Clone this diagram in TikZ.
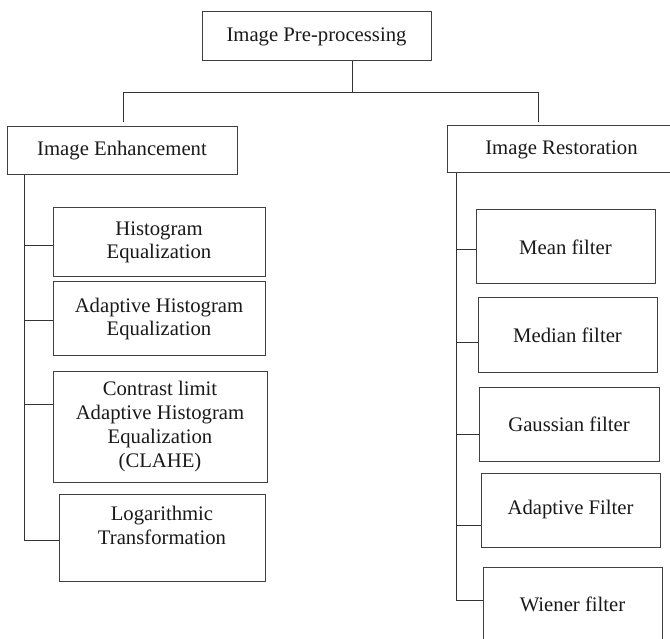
\documentclass[tikz,border=0pt]{standalone}
\usepackage{fontspec}
\setmainfont{Liberation Serif}
\usetikzlibrary{calc}
\tikzset{
  box/.style={draw=black!75, line width=1pt, inner sep=0pt, align=center,
    font=\fontsize{20.7}{23.7}\selectfont, text=black!90},
  link/.style={draw=black!80, line width=1pt},
}
\begin{document}
\begin{tikzpicture}[x=1pt,y=-1pt]
  \useasboundingbox (0,0) rectangle (670,639);
  \clip (0,0) rectangle (670,639);

  % root and the two main branches
  \node[box, minimum width=229pt, minimum height=49pt] (root) at (316.5,36.5) {Image Pre-processing};
  \node[box, minimum width=230pt, minimum height=48pt] (enh) at (122,151) {Image Enhancement};
  \node[box, minimum width=229pt, minimum height=47pt] (res) at (561.5,149.5) {Image Restoration};

  % enhancement methods
  \node[box, minimum width=212pt, minimum height=69pt] (hist) at (159,242.5) {Histogram\\Equalization};
  \node[box, minimum width=212pt, minimum height=74pt] (ahe) at (159,319) {Adaptive Histogram\\Equalization};
  \node[box, minimum width=214pt, minimum height=111pt] (clahe) at (160,426.5) {Contrast limit\\Adaptive Histogram\\Equalization\\(CLAHE)};
  \node[box, minimum width=206pt, minimum height=87pt] (log) at (162,537.5) {Logarithmic\\Transformation\\\mbox{}};

  % restoration filters
  \node[box, minimum width=179pt, minimum height=74pt] (mean) at (565.5,247) {Mean filter};
  \node[box, minimum width=179pt, minimum height=74pt] (median) at (567.5,335) {Median filter};
  \node[box, minimum width=180pt, minimum height=74pt] (gauss) at (569,424) {Gaussian filter};
  \node[box, minimum width=179pt, minimum height=74pt] (adapt) at (570.5,510) {Adaptive Filter};
  \node[box, minimum width=179pt, minimum height=74pt] (wiener) at (572.5,604) {Wiener filter};

  % top-level tree
  \coordinate (hub) at ($(root.south)+(35.5,31)$);
  \draw[link] ($(root.south)+(35.5,0)$) -- (hub);
  \draw[link] ($(enh.north)+(1,-4)$) |- (hub) -| ($(res.north)+(-23.5,-3)$);

  % left trunk
  \coordinate (ltop) at ($(enh.south west)+(18,0)$);
  \draw[link] (ltop) |- ($(log.west)+(0,2.5)$);
  \draw[link] (ltop |- {$(hist.west)+(0,3.5)$}) -- ($(hist.west)+(0,3.5)$);
  \draw[link] (ltop |- {$(ahe.west)+(0,2)$}) -- ($(ahe.west)+(0,2)$);
  \draw[link] (ltop |- {$(clahe.west)+(0,-22.5)$}) -- ($(clahe.west)+(0,-22.5)$);

  % right trunk
  \coordinate (rtop) at ($(res.south west)+(10,0)$);
  \draw[link] (rtop) |- ($(wiener.west)+(0,-4)$);
  \draw[link] (rtop |- {$(mean.west)+(0,3)$}) -- ($(mean.west)+(0,3)$);
  \draw[link] (rtop |- {$(median.west)+(0,8)$}) -- ($(median.west)+(0,8)$);
  \draw[link] (rtop |- {$(gauss.west)+(0,10)$}) -- ($(gauss.west)+(0,10)$);
  \draw[link] (rtop |- {$(adapt.west)+(0,15)$}) -- ($(adapt.west)+(0,15)$);
\end{tikzpicture}
\end{document}
